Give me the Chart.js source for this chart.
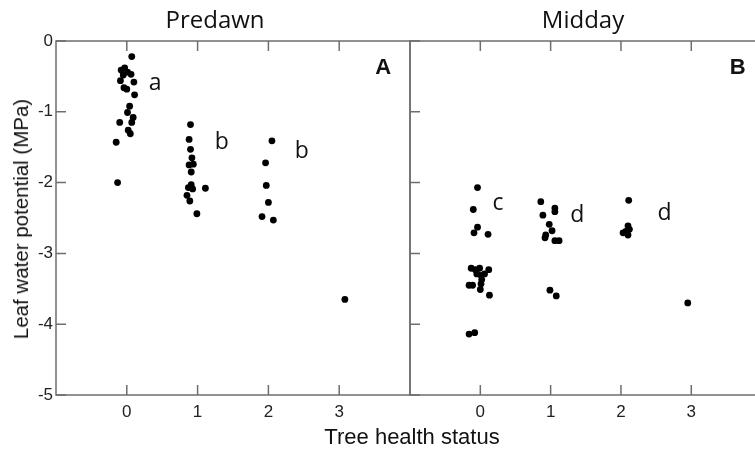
<!DOCTYPE html>
<html>
<head>
<meta charset="utf-8">
<script src="https://cdn.jsdelivr.net/npm/chart.js@4"></script>
<style>
  body { margin: 0; background: #fff; }
  #wrap { position: relative; width: 755px; height: 452px; overflow: hidden; background: #fff; }
  canvas { position: absolute; left: 0; top: 0; }
  .t { position: absolute; white-space: nowrap; transform: translate(-50%, -50%); color: #111; }
</style>
</head>
<body>
<div id="wrap">
  <canvas id="cPre" width="765" height="452"></canvas>
  <canvas id="cMid" width="765" height="452"></canvas>
  <div class="t" style="left:215px;top:18px;font:24px 'Open Sans'">Predawn</div>
  <div class="t" style="left:583px;top:18px;font:24px 'Open Sans'">Midday</div>
  <div class="t" style="left:412px;top:437px;font:22px 'Liberation Sans'">Tree health status</div>
  <div class="t" style="left:21px;top:219px;font:20.5px 'Liberation Sans';transform:translate(-50%,-50%) rotate(-90deg)">Leaf water potential (MPa)</div>
</div>
<script>
// ─── Datos ────────────────────────────────────────────────────
const xTicks = [0, 1, 2, 3];
const yTicks = [0, -1, -2, -3, -4, -5];

// Predawn: estado (con jitter) y potencial
const predawnStatus = [
  0.07, -0.03, -0.08, 0.01, 0.06, -0.05, -0.09, 0.10, -0.04, 0.00,
  0.11, 0.04, 0.01, 0.09, 0.07, -0.10, 0.02, 0.05, -0.15, -0.13,
  0.90, 0.88, 0.90, 0.92, 0.88, 0.94, 0.91, 0.87, 0.91, 0.93, 1.11, 0.85, 0.89, 0.99,
  2.05, 1.96, 1.97, 2.00, 1.91, 2.07,
  3.08
];
const predawnPsi = [
  -0.22, -0.38, -0.41, -0.44, -0.47, -0.48, -0.56, -0.58, -0.66, -0.68,
  -0.76, -0.92, -1.01, -1.08, -1.15, -1.15, -1.26, -1.31, -1.43, -2.00,
  -1.18, -1.39, -1.53, -1.65, -1.75, -1.74, -1.85, -2.07, -2.03, -2.09, -2.08, -2.18, -2.26, -2.44,
  -1.41, -1.72, -2.04, -2.28, -2.48, -2.53,
  -3.65
];

// Midday
const middayStatus = [
  -0.04, -0.10, -0.04, -0.09, 0.11, -0.13, -0.07, -0.01, 0.12, -0.05,
  0.01, 0.06, 0.02, -0.16, -0.11, 0.01, 0.00, 0.13, -0.16, -0.08,
  0.86, 0.89, 1.06, 1.06, 0.98, 1.02, 0.93, 0.92, 1.06, 1.12, 0.99, 1.08,
  2.11, 2.10, 2.12, 2.03, 2.07, 2.10,
  2.95
];
const middayPsi = [
  -2.07, -2.38, -2.63, -2.71, -2.73, -3.21, -3.23, -3.21, -3.23, -3.29,
  -3.31, -3.29, -3.37, -3.45, -3.45, -3.43, -3.51, -3.59, -4.14, -4.12,
  -2.27, -2.46, -2.36, -2.41, -2.59, -2.68, -2.74, -2.78, -2.82, -2.82, -3.52, -3.60,
  -2.25, -2.61, -2.66, -2.71, -2.69, -2.74,
  -3.70
];

// Letras de significancia
const predawnLetters = ["a", "b", "b"];
const predawnLetterX = [0.40, 1.34, 2.47];
const predawnLetterY = [-0.60, -1.44, -1.56];
const middayLetters  = ["c", "d", "d"];
const middayLetterX  = [0.25, 1.38, 2.62];
const middayLetterY  = [-2.29, -2.46, -2.44];

// ─── Estilo ───────────────────────────────────────────────────
const axisColor = "#6e6e6e";
const tickLen = 10;

// marco + ticks hacia adentro + letras
const panelDeco = {
  id: "panelDeco",
  beforeDatasetsDraw(chart, args, opts) {
    const { ctx, chartArea: a, scales: { x, y } } = chart;
    ctx.save();
    ctx.strokeStyle = axisColor;
    ctx.lineWidth = 1.5;
    ctx.strokeRect(a.left, a.top, a.right - a.left, a.bottom - a.top);
    ctx.beginPath();
    xTicks.forEach(v => {
      const px = x.getPixelForValue(v);
      ctx.moveTo(px, a.bottom); ctx.lineTo(px, a.bottom - tickLen);
      ctx.moveTo(px, a.top);    ctx.lineTo(px, a.top + tickLen);
    });
    yTicks.forEach(v => {
      const py = y.getPixelForValue(v);
      ctx.moveTo(a.left, py); ctx.lineTo(a.left + tickLen, py);
    });
    ctx.stroke();
    ctx.restore();
  },
  afterDraw(chart, args, opts) {
    const { ctx, scales: { x, y } } = chart;
    ctx.save();
    ctx.fillStyle = "#111";
    ctx.textAlign = "center";
    ctx.textBaseline = "middle";
    ctx.font = "23px 'Open Sans'";
    opts.letters.forEach((l, i) => {
      ctx.fillText(l, x.getPixelForValue(opts.lx[i]), y.getPixelForValue(opts.ly[i]));
    });
    ctx.font = "bold 22px 'Liberation Sans'";
    ctx.fillText(opts.panel, x.getPixelForValue(opts.px), y.getPixelForValue(-0.38));
    ctx.restore();
  }
};

function panel(id, xs, ys, deco, side) {
  const left = side === "left";
  return new Chart(document.getElementById(id), {
    type: "scatter",
    data: {
      datasets: [{
        data: xs.map((v, i) => ({ x: v, y: ys[i] })),
        backgroundColor: "#000", borderWidth: 0, pointRadius: 3.4, pointHoverRadius: 3.4
      }]
    },
    options: {
      responsive: false, animation: false,
      layout: { padding: left ? { top: 41, right: 355, left: 0, bottom: 0 }
                               : { top: 41, right: 1, left: 410, bottom: 0 } },
      plugins: { legend: { display: false }, tooltip: { enabled: false }, panelDeco: deco },
      scales: {
        x: {
          type: "linear", min: -1, max: 4,
          grid: { display: false, drawTicks: false }, border: { display: false },
          afterBuildTicks: s => { s.ticks = xTicks.map(v => ({ value: v })); },
          afterFit: s => { s.height = 57; },
          ticks: { color: "#222", padding: 7, font: { family: "Liberation Sans", size: 17 } }
        },
        y: {
          min: -5, max: 0,
          grid: { display: false, drawTicks: false }, border: { display: false },
          afterBuildTicks: s => { s.ticks = yTicks.map(v => ({ value: v })); },
          afterFit: s => { s.width = left ? 56 : 0; },
          ticks: { display: left, color: "#222", padding: 3, font: { family: "Liberation Sans", size: 17 } }
        }
      }
    },
    plugins: [panelDeco]
  });
}

panel("cPre", predawnStatus, predawnPsi,
  { letters: predawnLetters, lx: predawnLetterX, ly: predawnLetterY, panel: "A", px: 3.62 }, "left");
panel("cMid", middayStatus, middayPsi,
  { letters: middayLetters, lx: middayLetterX, ly: middayLetterY, panel: "B", px: 3.66 }, "right");
</script>
</body>
</html>
